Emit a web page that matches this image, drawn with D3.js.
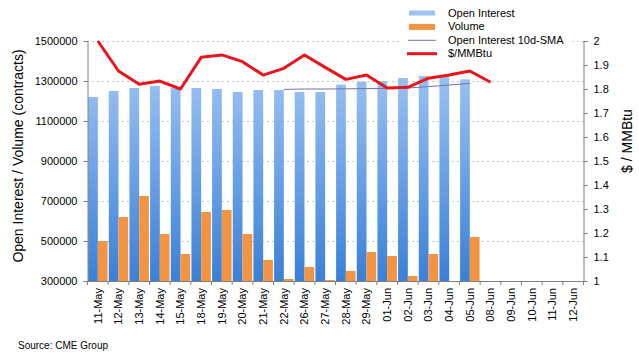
<!DOCTYPE html>
<html>
<head>
<meta charset="utf-8">
<script src="https://cdn.jsdelivr.net/npm/d3@7"></script>
<style>
  body { margin: 0; background: #fff; }
  svg { font-family: "Liberation Sans", Arial, sans-serif; }
</style>
</head>
<body>
<div class="svg-container"></div>
<script>
// chart data
const dates = ["11-May", "12-May", "13-May", "14-May", "15-May", "18-May", "19-May", "20-May",
  "21-May", "22-May", "26-May", "27-May", "28-May", "29-May", "01-Jun", "02-Jun", "03-Jun",
  "04-Jun", "05-Jun", "08-Jun", "09-Jun", "10-Jun", "11-Jun", "12-Jun"];
const openInterest = [1220000, 1250000, 1265000, 1275000, 1265000, 1265000, 1260000, 1245000,
  1255000, 1255000, 1245000, 1245000, 1282000, 1297000, 1300000, 1315000, 1325000,
  1325000, 1308000, null, null, null, null, null];
const volume = [500000, 620000, 725000, 535000, 435000, 645000, 655000, 535000,
  405000, 310000, 370000, 305000, 350000, 445000, 425000, 325000, 435000,
  null, 520000, null, null, null, null, null];
const oiSma = [null, null, null, null, null, null, null, null,
  null, 1258000, 1260000, 1260000, 1261000, 1262000, 1263000, 1265000, 1272000,
  1280000, 1288000, null, null, null, null, null];
const price = [2.0, 1.875, 1.82, 1.833, 1.80, 1.932, 1.942, 1.914,
  1.858, 1.886, 1.942, 1.89, 1.84, 1.858, 1.804, 1.807, 1.845,
  1.858, 1.875, 1.828, null, null, null, null];
const leftTicks = [300000, 500000, 700000, 900000, 1100000, 1300000, 1500000];
const rightTicks = [1, 1.1, 1.2, 1.3, 1.4, 1.5, 1.6, 1.7, 1.8, 1.9, 2];
const legendItems = ["Open Interest", "Volume", "Open Interest 10d-SMA", "$/MMBtu"];

document.addEventListener("DOMContentLoaded", () => {

  let width = 639, height = 361;
  let plot = { left: 87.5, right: 583.5, top: 41, bottom: 281 };

  let svg = d3.select(".svg-container").append("svg")
    .attr("width", width)
    .attr("height", height);

  // gradient for the open interest bars
  let grad = svg.append("defs").append("linearGradient")
    .attr("id", "oiGrad")
    .attr("gradientUnits", "userSpaceOnUse")
    .attr("x1", 0).attr("y1", plot.top)
    .attr("x2", 0).attr("y2", plot.bottom);
  grad.append("stop").attr("offset", "0%").attr("stop-color", "#a9ccf6");
  grad.append("stop").attr("offset", "100%").attr("stop-color", "#3a80d7");

  let x = d3.scaleBand()
    .domain(dates)
    .range([plot.left, plot.right])
    .padding(0);
  let bw = x.bandwidth();

  let y = d3.scaleLinear()
    .domain([300000, 1500000])
    .range([plot.bottom, plot.top]);

  let y2 = d3.scaleLinear()
    .domain([1, 2])
    .range([plot.bottom, plot.top]);

  //dotted gridlines
  svg.append("g")
    .selectAll("line")
    .data(leftTicks.filter(t => t > 300000))
    .enter().append("line")
    .attr("x1", plot.left)
    .attr("x2", plot.right)
    .attr("y1", d => Math.round(y(d)) + 0.5)
    .attr("y2", d => Math.round(y(d)) + 0.5)
    .attr("stroke", "#8a8a8a")
    .attr("stroke-dasharray", "1,4");

  // bars
  svg.append("g")
    .selectAll("rect")
    .data(dates.map((d, i) => ({ date: d, v: openInterest[i] })).filter(d => d.v != null))
    .enter().append("rect")
    .attr("x", d => x(d.date) + 0.6)
    .attr("width", bw / 2 - 0.6)
    .attr("y", d => y(d.v))
    .attr("height", d => y(300000) - y(d.v))
    .attr("fill", "url(#oiGrad)");

  svg.append("g")
    .selectAll("rect")
    .data(dates.map((d, i) => ({ date: d, v: volume[i] })).filter(d => d.v != null))
    .enter().append("rect")
    .attr("x", d => x(d.date) + bw / 2)
    .attr("width", bw / 2 - 0.6)
    .attr("y", d => y(d.v))
    .attr("height", d => y(300000) - y(d.v))
    .attr("fill", "#f39442");

  // 10d SMA line
  let smaLine = d3.line()
    .defined(d => d.v != null)
    .x(d => x(d.date) + bw / 2)
    .y(d => y(d.v));
  svg.append("path")
    .datum(dates.map((d, i) => ({ date: d, v: oiSma[i] })))
    .attr("d", smaLine)
    .attr("fill", "none")
    .attr("stroke", "#7b6ea3")
    .attr("stroke-width", 1);

  // price line
  let priceLine = d3.line()
    .defined(d => d.v != null)
    .x(d => x(d.date) + bw / 2)
    .y(d => y2(d.v));
  svg.append("path")
    .datum(dates.map((d, i) => ({ date: d, v: price[i] })))
    .attr("d", priceLine)
    .attr("fill", "none")
    .attr("stroke", "#e8161c")
    .attr("stroke-width", 3)
    .attr("stroke-linejoin", "round");

  //left axis
  let yAxis = d3.axisLeft(y)
    .tickValues(leftTicks)
    .tickSize(4)
    .tickPadding(6)
    .tickFormat(d3.format("d"));
  let gy = svg.append("g")
    .attr("transform", "translate(" + plot.left + ",0)")
    .call(yAxis);

  //right axis
  let y2Axis = d3.axisRight(y2)
    .tickValues(rightTicks)
    .tickSize(4)
    .tickPadding(6)
    .tickFormat(d => d3.format(".1f")(d).replace(/\.0$/, ""));
  let gy2 = svg.append("g")
    .attr("transform", "translate(" + plot.right + ",0)")
    .call(y2Axis);

  //bottom axis, ticks sit between categories
  let gx = svg.append("g")
    .attr("transform", "translate(0," + plot.bottom + ")")
    .call(d3.axisBottom(x).tickSize(0).tickPadding(6));
  gx.selectAll(".tick text")
    .attr("transform", "rotate(-90)")
    .attr("x", -7)
    .attr("y", 0)
    .attr("dy", "0.35em")
    .style("text-anchor", "end");
  gx.append("g")
    .selectAll("line")
    .data(dates.concat(["end"]))
    .enter().append("line")
    .attr("x1", (d, i) => plot.left + i * bw)
    .attr("x2", (d, i) => plot.left + i * bw)
    .attr("y1", 0)
    .attr("y2", 4)
    .attr("stroke", "#808080");

  [gy, gy2, gx].forEach(g => {
    g.select(".domain").attr("stroke", "#808080");
    g.selectAll(".tick line").attr("stroke", "#808080");
    g.selectAll(".tick text")
      .attr("fill", "#000")
      .style("font-size", "11px");
  });

  //axis titles
  svg.append("text")
    .attr("transform", "translate(23,156) rotate(-90)")
    .style("text-anchor", "middle")
    .style("font-size", "14px")
    .text("Open Interest / Volume (contracts)");

  svg.append("text")
    .attr("transform", "translate(632,141) rotate(-90)")
    .style("text-anchor", "middle")
    .style("font-size", "14px")
    .text("$ / MMBtu");

  // legend
  let legend = svg.append("g");
  legend.append("rect")
    .attr("x", 400)
    .attr("y", 0)
    .attr("width", 172)
    .attr("height", 62)
    .attr("fill", "#fff");

  let item = legend.selectAll(".legend")
    .data(legendItems)
    .enter().append("g")
    .attr("class", "legend")
    .attr("transform", (d, i) => "translate(0," + (17 + i * 13.4) + ")");

  item.append("text")
    .attr("x", 448)
    .attr("y", 0)
    .style("font-size", "11px")
    .text(d => d);

  item.filter((d, i) => i == 0).append("rect")
    .attr("x", 409).attr("y", -6.5).attr("width", 26).attr("height", 5)
    .attr("fill", "#9ec3f3");
  item.filter((d, i) => i == 1).append("rect")
    .attr("x", 409).attr("y", -6.5).attr("width", 26).attr("height", 6)
    .attr("fill", "#f39442");
  item.filter((d, i) => i == 2).append("line")
    .attr("x1", 408).attr("x2", 436).attr("y1", -3.5).attr("y2", -3.5)
    .attr("stroke", "#7b6ea3").attr("stroke-width", 1);
  item.filter((d, i) => i == 3).append("line")
    .attr("x1", 407).attr("x2", 437).attr("y1", -3.5).attr("y2", -3.5)
    .attr("stroke", "#e8161c").attr("stroke-width", 3);

  //source note
  svg.append("text")
    .attr("x", 18)
    .attr("y", 349)
    .style("font-size", "10px")
    .text("Source: CME Group");
});
</script>
</body>
</html>
